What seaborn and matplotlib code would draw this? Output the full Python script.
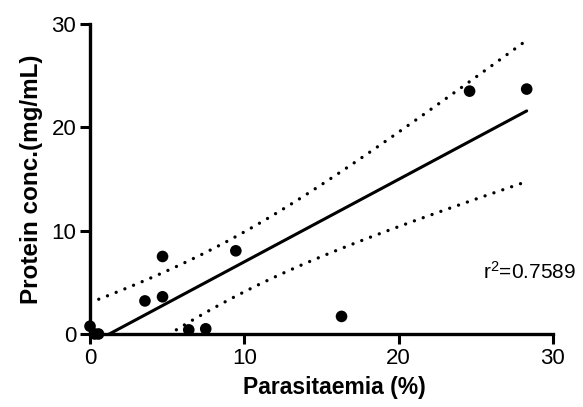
import numpy as np
import pandas as pd
import matplotlib
matplotlib.use("Agg")
import matplotlib.pyplot as plt
import seaborn as sns

parasitaemia = [0.0, 0.3, 0.55, 3.56, 4.7, 4.7, 6.4, 7.5, 9.45, 16.3, 24.6, 28.3]
protein = [0.75, 0.0, 0.0, 3.2, 3.6, 7.5, 0.4, 0.5, 8.05, 1.7, 23.5, 23.7]
x_ticks = [0, 10, 20, 30]
y_ticks = [0, 10, 20, 30]
r2_label = "r$^2$=0.7589"

sns.set_theme(style="ticks")
plt.rcParams["font.family"] = ["Liberation Sans", "DejaVu Sans"]
plt.rcParams["mathtext.fontset"] = "custom"
plt.rcParams["mathtext.rm"] = "Liberation Sans"
plt.rcParams["mathtext.it"] = "Liberation Sans"
plt.rcParams["text.color"] = "black"
plt.rcParams["axes.labelcolor"] = "black"

df = pd.DataFrame({"x": parasitaemia, "y": protein})

fig = plt.figure(figsize=(5.83, 4.07), dpi=100)
ax = fig.add_axes([0.1544, 0.1794, 0.794, 0.7617])

sns.regplot(data=df, x="x", y="y", ax=ax, ci=None, color="black",
            scatter_kws=dict(s=70, clip_on=False, zorder=5, edgecolor="none", alpha=1),
            line_kws=dict(lw=2.2))

# 95% confidence bands of the fitted line
x = np.array(parasitaemia); y = np.array(protein)
n = len(x)
b, a = np.polyfit(x, y, 1)
resid = y - (a + b * x)
s = np.sqrt(np.sum(resid ** 2) / (n - 2))
xs = np.linspace(x.min(), x.max(), 200)
se = s * np.sqrt(1 / n + (xs - x.mean()) ** 2 / np.sum((x - x.mean()) ** 2))
t = 2.228
fit = a + b * xs
band = pd.DataFrame({"x": np.concatenate([xs, xs]),
                     "y": np.concatenate([fit + t * se, fit - t * se]),
                     "side": ["upper"] * len(xs) + ["lower"] * len(xs)})
for side in ["upper", "lower"]:
    sns.lineplot(data=band[band.side == side], x="x", y="y", ax=ax, color="black",
                 lw=2.4, linestyle=(0, (0.01, 2.8)), dash_capstyle="round")

ax.set_xlim(0, 30)
ax.set_ylim(0, 30)
ax.set_xticks(x_ticks)
ax.set_yticks(y_ticks)
ax.tick_params(labelsize=16, width=2.2, length=7, color="black", labelcolor="black", pad=3)
for sp in ["left", "bottom"]:
    ax.spines[sp].set_linewidth(2.4)
    ax.spines[sp].set_color("black")
sns.despine(ax=ax)
ax.set_xlabel("Parasitaemia (%)", fontsize=16.5, fontweight="bold", labelpad=9, color="black")
ax.xaxis.set_label_coords(0.528, -0.135)
ax.set_ylabel("Protein conc.(mg/mL)", fontsize=17.5, fontweight="bold", labelpad=6, color="black")
ax.text(25.5, 5.3, r2_label, fontsize=15, ha="left", va="baseline", color="black")

fig.savefig("out.png", dpi=100)
